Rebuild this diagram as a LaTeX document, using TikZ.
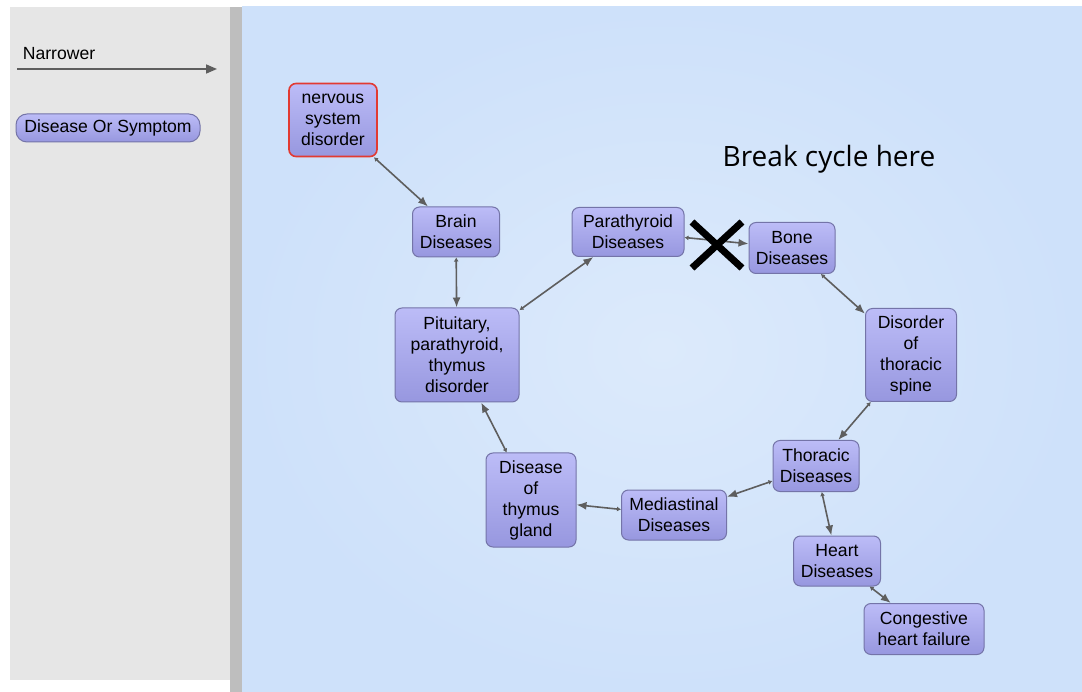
\documentclass[tikz,border=0pt]{standalone}
\usepackage{fontspec}
\setmainfont{Liberation Sans}
\newfontfamily\notefont{Open Sans}
\usetikzlibrary{arrows.meta, positioning}

\definecolor{panelgray}{HTML}{E6E6E6}
\definecolor{bargray}{HTML}{BEBEBE}
\definecolor{bgblue}{HTML}{CEE1FA}
\definecolor{bglight}{HTML}{DCEAFB}
\definecolor{boxtop}{HTML}{BCBCF7}
\definecolor{boxbot}{HTML}{9797DF}
\definecolor{boxline}{HTML}{7474A8}
\definecolor{edgegray}{HTML}{5E5E5E}
\definecolor{rootred}{HTML}{E23A32}

\tikzset{
	concept/.style={draw=boxline, line width=1pt, rounded corners=7pt,
		top color=boxtop, bottom color=boxbot, align=center, inner sep=3pt,
		font=\fontsize{17.6}{21}\selectfont, text=black},
	narrower/.style={draw=edgegray, line width=1.6pt,
		{Latex[length=4pt,width=5pt]}-{Latex[length=10pt,width=8pt]}}
}

\begin{document}
\begin{tikzpicture}[x=1pt, y=-1pt]
	\useasboundingbox (0,0) rectangle (1082,692);
	\fill [white] (0,0) rectangle (1082,692);
	\fill [panelgray] (10,7) rectangle (230,680);
	\fill [bargray] (230,7) rectangle (242,692);
	\shade [inner color=bglight, outer color=bgblue] (242,7) rectangle (1082,692);

	% legend
	\node (lgtext) at (59,54) {\fontsize{17.6}{21}\selectfont Narrower};
	\coordinate (lgstart) at (17,69);
	\coordinate (lgend) at (217,69);
	\draw [draw=edgegray, line width=1.6pt, -{Triangle[length=11pt,width=9pt]}] (lgstart) -- (lgend);
	\node [concept, rounded corners=11pt, minimum width=184, minimum height=28, inner sep=1pt] (lgbox) at (108,128) {Disease Or Symptom};

	% concepts
	\node [concept, draw=rootred, line width=1.6pt, minimum width=88, minimum height=73] (nervous) at (333,120) {nervous\\system\\disorder};
	\node [concept, minimum width=87, minimum height=50] (brain) at (456,232) {Brain\\Diseases};
	\node [concept, minimum width=112, minimum height=49] (parathyroid) at (628,232) {Parathyroid\\Diseases};
	\node [concept, minimum width=86, minimum height=51] (bone) at (792,248) {Bone\\Diseases};
	\node [concept, minimum width=124, minimum height=94] (pituitary) at (457,355) {Pituitary,\\parathyroid,\\thymus\\disorder};
	\node [concept, minimum width=91, minimum height=93] (spine) at (911,355) {Disorder\\of\\thoracic\\spine};
	\node [concept, minimum width=86, minimum height=51] (thoracic) at (816,466) {Thoracic\\Diseases};
	\node [concept, minimum width=90, minimum height=94] (thymus) at (531,500) {Disease\\of\\thymus\\gland};
	\node [concept, minimum width=105, minimum height=50] (mediastinal) at (674,515) {Mediastinal\\Diseases};
	\node [concept, minimum width=87, minimum height=50] (heart) at (837,561) {Heart\\Diseases};
	\node [concept, minimum width=120, minimum height=51] (congestive) at (924,629) {Congestive\\heart failure};

	% edges
	\draw [narrower] (nervous) -- (brain);
	\draw [narrower] (brain) -- (pituitary);
	\draw [narrower] (pituitary) -- (parathyroid);
	\draw [narrower] (parathyroid) -- (bone);
	\draw [narrower] (bone) -- (spine);
	\draw [narrower] (spine) -- (thoracic);
	\draw [narrower] (thoracic) -- (mediastinal);
	\draw [narrower] (thoracic) -- (heart);
	\draw [narrower] (heart) -- (congestive);
	\draw [narrower] (mediastinal) -- (thymus);
	\draw [narrower] (thymus) -- (pituitary);

	% note
	\node (note) at (829,159) {\notefont\fontsize{28}{32}\selectfont Break cycle here};
	\coordinate (cutc) at (717,245);
	\draw [black, line width=7pt] ([shift={(-25,-23)}]cutc) -- ([shift={(25,23)}]cutc);
	\draw [black, line width=7pt] ([shift={(25,-23)}]cutc) -- ([shift={(-25,23)}]cutc);
\end{tikzpicture}
\end{document}
